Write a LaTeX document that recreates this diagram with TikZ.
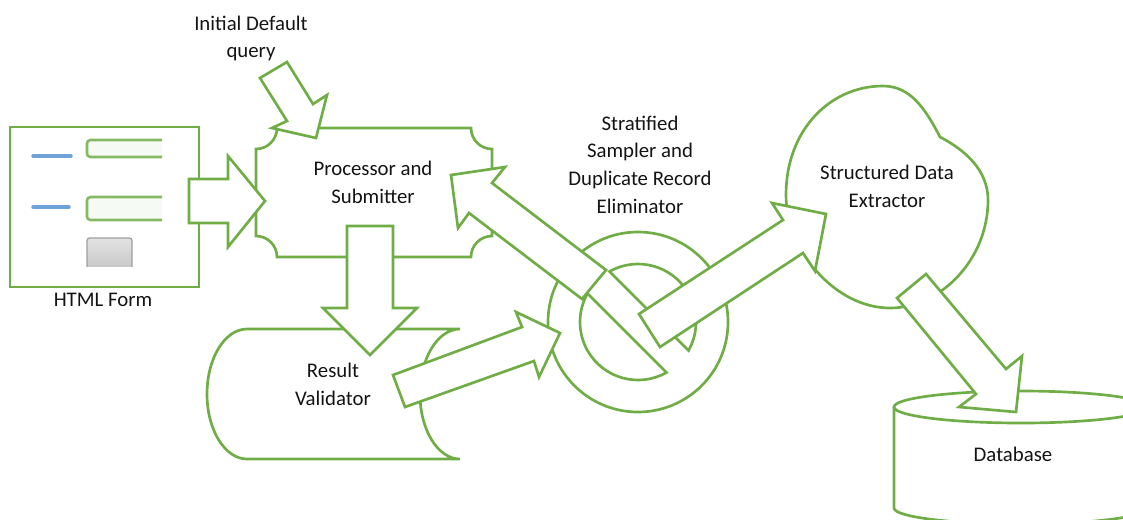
\documentclass[tikz,border=0pt]{standalone}
\usepackage{fontspec}
\setmainfont{Carlito}
\definecolor{leaf}{HTML}{70AD47}
\definecolor{sky}{HTML}{6FA3D8}
\begin{document}
\begin{tikzpicture}[x=0.75pt,y=-0.75pt,
  outline/.style={draw=leaf, line width=2pt, line join=miter},
  blockarrow/.style={outline, fill=white},
  label/.style={font=\fontsize{15.6}{20.8}\selectfont, align=center, inner sep=0pt, text=black!92}]
\useasboundingbox (0,0) rectangle (1123,519);

% HTML form with two fields and a button
\draw[outline, fill=white] (10,127) rectangle (199,287);
\draw[sky, line width=2.6pt, line cap=round] (33,156) -- (71,156);
\draw[sky, line width=2.6pt, line cap=round] (33,207) -- (69,207);
\draw[leaf!85, line width=1.9pt, rounded corners=2.5pt, fill=leaf!6] (162,140) -- (87,140) -- (87,157) -- (162,157);
\draw[leaf!85, line width=1.9pt, rounded corners=2.5pt, fill=leaf!6] (162,197) -- (87,197) -- (87,220) -- (162,220);
\begin{scope}
  \clip (80,230) rectangle (140,266);
  \draw[draw=gray!75, line width=1pt, rounded corners=2pt, top color=gray!22, bottom color=gray!48] (87,238) rectangle (132,274);
\end{scope}
\node[label] (form) at (103,300) {HTML Form};

% processor and submitter (plaque with concave corners)
\draw[outline, fill=white] (277,128) -- (471,128)
  arc[start angle=180, end angle=90, radius=21] -- (492,236)
  arc[start angle=-90, end angle=-180, radius=21] -- (277,257)
  arc[start angle=0, end angle=-90, radius=21] -- (256,149)
  arc[start angle=90, end angle=0, radius=21] -- cycle;
\node[label] (proc) at (373,182) {Processor and\\Submitter};

% result validator (stored data shape)
\draw[outline, fill=white] (247,329) -- (460,329)
  arc[start angle=-90, end angle=-270, x radius=40, y radius=65] -- (247,459)
  arc[start angle=90, end angle=270, x radius=40, y radius=65] -- cycle;
\node[label] (valid) at (333,384) {Result\\Validator};

% stratified sampler (ring with a diagonal bar)
\draw[outline, fill=white] (638,322) circle[radius=90];
\draw[outline] (638,322) ++(-119.4:58) arc[start angle=-119.4, end angle=29.4, radius=58] -- cycle;
\draw[outline] (638,322) ++(60.6:58) arc[start angle=60.6, end angle=209.4, radius=58] -- cycle;
\node[label] (samp) at (640,164.5) {Stratified\\Sampler and\\Duplicate Record\\Eliminator};

% structured data extractor (blob)
\draw[outline, fill=white] (940,137) .. controls (965,150) and (988,170) .. (988,200)
  .. controls (988,260) and (940,308) .. (890,308)
  .. controls (835,308) and (786,250) .. (786,195)
  .. controls (786,130) and (830,86) .. (883,86)
  .. controls (910,86) and (925,108) .. (940,137) -- cycle;
\node[label] (extr) at (887,186) {Structured Data\\Extractor};

% database cylinder
\draw[outline, fill=white] (894,407) -- (894,508)
  arc[start angle=180, end angle=0, x radius=127, y radius=16] -- (1148,407);
\draw[outline] (1021,407) ellipse[x radius=127, y radius=16];
\node[label] (db) at (1013,454) {Database};

% query label and block arrows
\node[label] (query) at (251,38.5) {Initial Default\\query};
\draw[blockarrow] (260,78) -- (287,62) -- (313,104) -- (327,95) -- (316,138) -- (272,128) -- (287,121) -- cycle;
\draw[blockarrow] (189,179) -- (228,179) -- (228,156) -- (265,201) -- (228,247) -- (228,223) -- (189,223) -- cycle;
\draw[blockarrow] (347,226) -- (393,226) -- (393,308) -- (417,308) -- (370,355) -- (323,308) -- (347,308) -- cycle;
\draw[blockarrow] (393,375) -- (522,327) -- (516,312) -- (560,333) -- (539,377) -- (534,361) -- (405,407) -- cycle;
\draw[blockarrow] (606,270) -- (492,183) -- (505,167) -- (451,175) -- (458,228) -- (469,213) -- (582,299) -- cycle;
\draw[blockarrow] (639,314) -- (783,220) -- (772,203) -- (826,214) -- (815,271) -- (803,253) -- (660,347) -- cycle;
\draw[blockarrow] (897,298) -- (926,274) -- (1006,369) -- (1022,356) -- (1016,412) -- (959,407) -- (976,394) -- cycle;
\end{tikzpicture}
\end{document}
